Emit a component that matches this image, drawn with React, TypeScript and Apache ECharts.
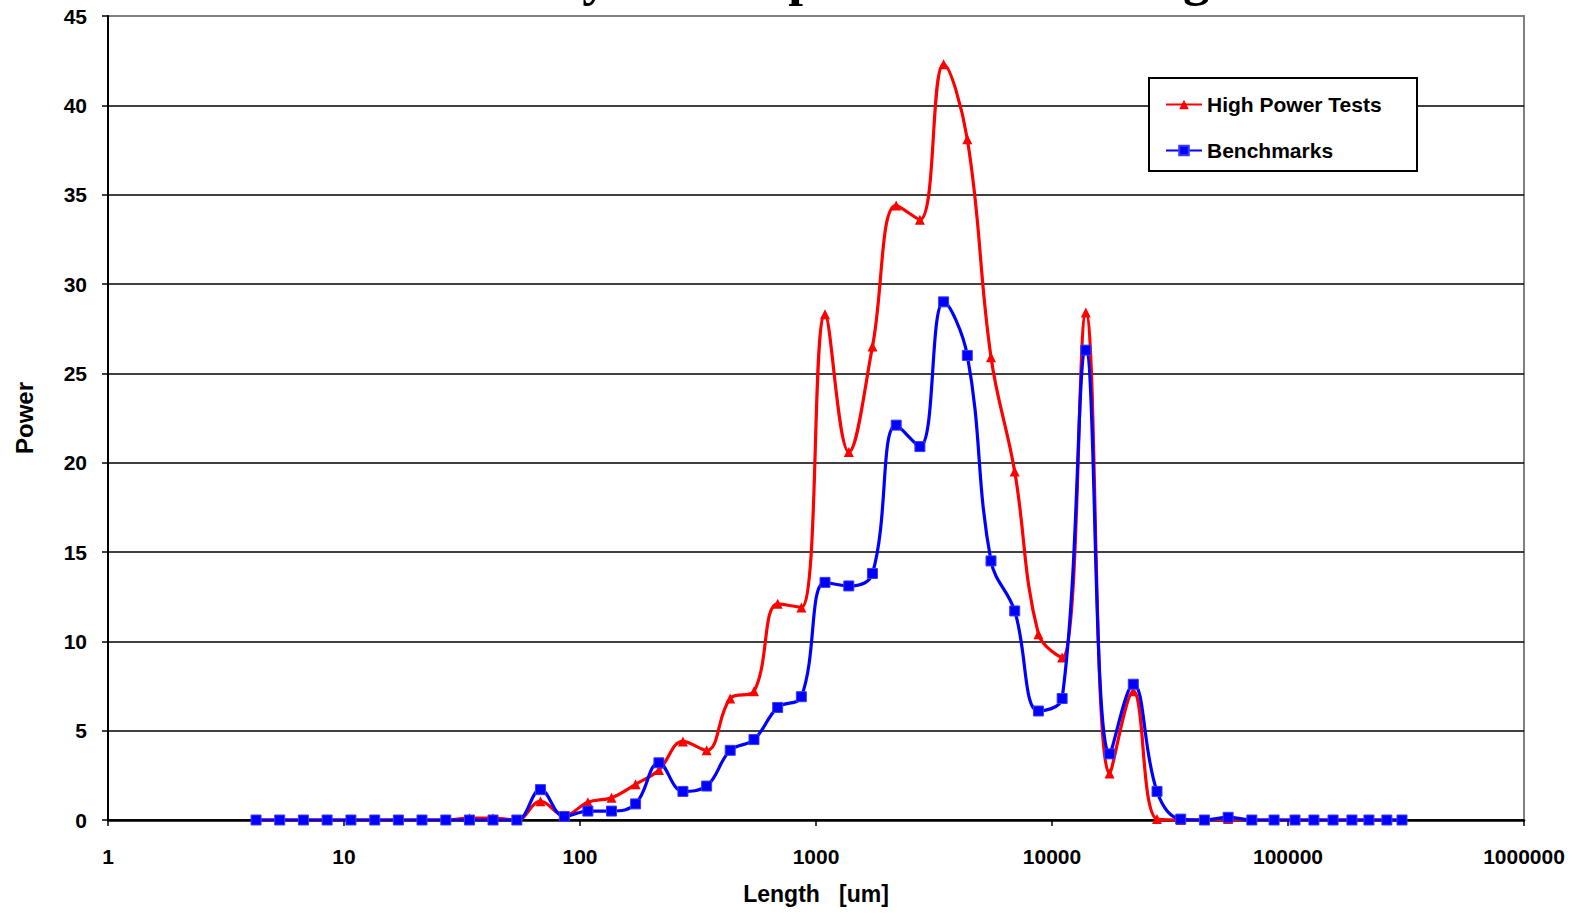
import React, { useEffect, useRef } from "react";
import * as echarts from "echarts";

const titleText = "Power Density in Comparison of Heating Tests";
const xAxisName = "Length   [um]";
const yAxisName = "Power";
const seriesNames = ["High Power Tests", "Benchmarks"];

const xValues = [
  4.24, 5.34, 6.73, 8.48, 10.7, 13.5, 17.0, 21.4, 27.0, 34.0, 42.8, 54.0, 68.0, 85.8,
  108, 136, 172, 216, 273, 344, 433, 546, 688, 867, 1092, 1377, 1735, 2187, 2756, 3473,
  4377, 5515, 6950, 8760, 11040, 13910, 17540, 22110, 27860, 35110, 44250, 55760, 70270,
  87300, 107100, 128800, 155200, 186600, 220300, 262400, 304100,
];

const highPower = [
  0, 0, 0, 0, 0, 0, 0, 0, 0, 0.1, 0.1, 0, 1.05, 0.25,
  1.0, 1.25, 2.0, 2.8, 4.4, 3.9, 6.8, 7.2, 12.1, 11.9, 28.3, 20.6, 26.5, 34.4, 33.6, 42.3,
  38.1, 25.9, 19.5, 10.4, 9.1, 28.4, 2.6, 7.2, 0.05, 0, 0, 0.05, 0,
  0, 0, 0, 0, 0, 0, 0, 0,
];

const benchmarks = [
  0, 0, 0, 0, 0, 0, 0, 0, 0, 0, 0, 0, 1.7, 0.2,
  0.5, 0.5, 0.9, 3.2, 1.6, 1.9, 3.9, 4.5, 6.3, 6.9, 13.3, 13.1, 13.8, 22.1, 20.9, 29.0,
  26.0, 14.5, 11.7, 6.1, 6.8, 26.3, 3.7, 7.6, 1.6, 0.05, 0, 0.15, 0,
  0, 0, 0, 0, 0, 0, 0, 0,
];

const xTickLabels = ["1", "10", "100", "1000", "10000", "100000", "1000000"];

const FONT = '"Liberation Sans", Arial, sans-serif';

export default function App() {
  const ref = useRef<HTMLDivElement>(null);
  useEffect(() => {
    if (!ref.current) return;
    const chart = echarts.init(ref.current, null, { renderer: "svg" });
    const splitColors = Array.from({ length: 10 }, (_, i) => (i === 9 ? "#808080" : "#000000"));
    chart.setOption({
      animation: false,
      backgroundColor: "#ffffff",
      grid: {
        left: 108,
        right: 50,
        top: 16,
        bottom: 93,
        show: true,
        borderColor: "#808080",
        borderWidth: 2,
        backgroundColor: "transparent",
      },
      graphic: [
        {
          type: "text",
          x: 808,
          y: -23,
          z: 50,
          style: {
            text: titleText,
            font: 'bold 53px "Liberation Serif", "Times New Roman", serif',
            fill: "#000",
            align: "center",
            verticalAlign: "middle",
            textAlign: "center",
            textVerticalAlign: "middle",
          },
        },
        {
          type: "rect",
          z: 10,
          shape: { x: 1149, y: 78, width: 268, height: 93 },
          style: { fill: "#ffffff", stroke: "#000000", lineWidth: 2 },
        },
      ],
      legend: {
        orient: "vertical",
        left: 1165,
        top: 94,
        padding: 0,
        z: 20,
        itemWidth: 36,
        itemHeight: 12,
        itemGap: 25,
        textStyle: { fontFamily: FONT, fontWeight: "bold", fontSize: 21, color: "#000" },
        data: seriesNames,
      },
      xAxis: {
        type: "log",
        logBase: 10,
        min: 1,
        max: 1000000,
        name: xAxisName,
        nameLocation: "middle",
        nameGap: 62,
        nameTextStyle: { fontFamily: FONT, fontWeight: "bold", fontSize: 23, color: "#000" },
        axisLine: { show: true, lineStyle: { color: "#000", width: 2.5 } },
        axisTick: { show: true, length: 6, lineStyle: { color: "#000", width: 1.5 } },
        minorTick: { show: false },
        splitLine: { show: false },
        axisLabel: {
          margin: 26,
          fontFamily: FONT,
          fontWeight: "bold",
          fontSize: 21,
          color: "#000",
          formatter: (v: number) => {
            const i = Math.round(Math.log10(v));
            return xTickLabels[i] ?? String(Math.round(v));
          },
        },
      },
      yAxis: {
        type: "value",
        min: 0,
        max: 45,
        interval: 5,
        name: yAxisName,
        nameLocation: "middle",
        nameGap: 72,
        nameTextStyle: { fontFamily: FONT, fontWeight: "bold", fontSize: 24, color: "#000" },
        axisLine: { show: true, lineStyle: { color: "#000", width: 2 } },
        axisTick: { show: true, length: 6, lineStyle: { color: "#000", width: 1.5 } },
        splitLine: { show: true, lineStyle: { color: splitColors, width: 1.5 } },
        axisLabel: {
          margin: 21,
          fontFamily: FONT,
          fontWeight: "bold",
          fontSize: 21,
          color: "#000",
        },
      },
      series: [
        {
          name: seriesNames[0],
          type: "line",
          smooth: 0.4,
          symbol: "triangle",
          symbolSize: 10,
          z: 3,
          lineStyle: { color: "#ff0000", width: 3.2 },
          itemStyle: { color: "#ff0000" },
          data: xValues.map((x, i) => [x, highPower[i]]),
        },
        {
          name: seriesNames[1],
          type: "line",
          smooth: 0.4,
          symbol: "rect",
          symbolSize: 10,
          z: 4,
          lineStyle: { color: "#0000ff", width: 3.2 },
          itemStyle: { color: "#0000ff", borderColor: "#3a3aff", borderWidth: 1 },
          data: xValues.map((x, i) => [x, benchmarks[i]]),
        },
      ],
    });
    return () => chart.dispose();
  }, []);
  return (
    <div
      ref={ref}
      style={{ position: "fixed", left: 0, top: 0, width: 1574, height: 913, background: "#fff" }}
    />
  );
}
